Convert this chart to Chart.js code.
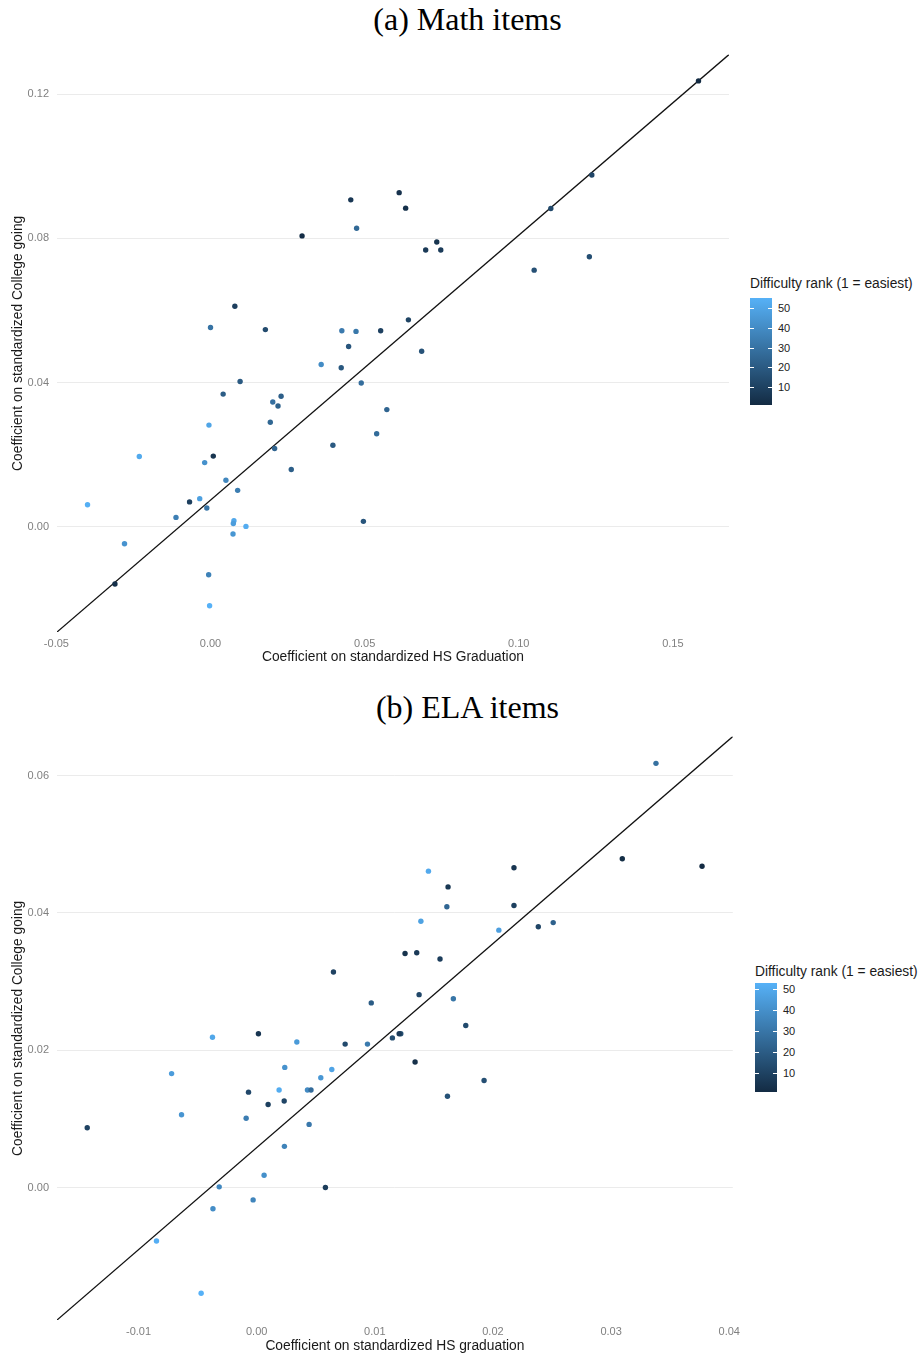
<!DOCTYPE html>
<html><head><meta charset="utf-8">
<script src="https://cdn.jsdelivr.net/npm/chart.js@4/dist/chart.umd.min.js"></script>
<style>
body{margin:0;background:#fff;}
#wrap{position:relative;width:919px;height:1354px;overflow:hidden;background:#fff;font-family:"Liberation Sans",Arial,Helvetica,sans-serif;}
.ptitle{position:absolute;left:8px;width:919px;text-align:center;font-family:"Liberation Serif","Times New Roman",serif;font-size:32px;color:#000;line-height:36px;}
canvas{position:absolute;left:0;}
.lgt{position:absolute;font-size:13.8px;color:#1a1a1a;white-space:nowrap;line-height:16px;}
.bar{position:absolute;width:22px;}
.lbl{position:absolute;font-size:11px;color:#222;line-height:12px;}
.tk{position:absolute;height:1px;background:#fff;width:4px;}
</style></head>
<body><div id="wrap">
<div class="ptitle" style="top:1px">(a) Math items</div>
<canvas id="c1" width="745" height="630" style="top:40px;width:745px;height:630px"></canvas>
<div class="ptitle" style="top:689px">(b) ELA items</div>
<canvas id="c2" width="745" height="632" style="top:722px;width:745px;height:632px"></canvas>
</div>
<script>
// ---------- data: Math items ----------
const mathX = [0.0455,0.0612,0.0633,0.0474,0.0297,0.0734,0.0698,0.0747,0.0079,0.0000,0.0178,0.0426,0.0472,0.0552,0.0642,0.1583,0.1237,0.1104,0.1229,0.1050,0.0448,0.0685,0.0359,0.0424,0.0096,0.0489,0.0041,0.0229,0.0202,0.0219,0.0572,-0.0005,0.0194,0.0539,0.0397,0.0208,-0.0231,0.0009,-0.0019,0.0262,0.0050,0.0088,-0.0068,-0.0035,-0.0399,-0.0012,-0.0112,0.0496,0.0076,0.0074,0.0115,0.0073,-0.0279,-0.0006,-0.0310,-0.0003];
const mathY = [0.0907,0.0927,0.0884,0.0828,0.0807,0.0790,0.0768,0.0768,0.0612,0.0553,0.0547,0.0544,0.0542,0.0544,0.0574,0.1237,0.0976,0.0883,0.0749,0.0712,0.0500,0.0487,0.0450,0.0441,0.0403,0.0399,0.0368,0.0362,0.0346,0.0335,0.0325,0.0282,0.0290,0.0258,0.0226,0.0217,0.0195,0.0196,0.0178,0.0159,0.0129,0.0101,0.0069,0.0078,0.0061,0.0052,0.0026,0.0015,0.0017,0.0009,0.0001,-0.0020,-0.0047,-0.0133,-0.0159,-0.0219];
const mathRank = [6,4,3,26,2,5,7,8,9,30,14,33,32,10,11,1,12,13,15,16,18,17,40,19,20,28,21,22,29,23,24,50,25,27,20,24,52,5,42,22,38,34,9,48,54,31,35,18,51,47,53,44,43,36,3,55];
// ---------- data: ELA items ----------
const elaX = [0.01454,0.0162,0.0161,0.0139,0.01256,0.01355,0.01552,0.0065,0.0097,0.01375,0.01665,0.0338,0.02178,0.03095,0.0377,0.02178,0.0205,0.02384,0.0251,0.0177,0.0122,0.01341,0.01925,0.01615,-0.00374,0.00015,0.0034,0.00749,0.00938,0.01149,0.01206,-0.0072,0.00238,0.00636,0.00543,0.0019,0.0043,0.0046,-0.00069,0.00233,0.00097,-0.00636,-0.00089,-0.01434,0.00444,0.00235,0.00063,-0.00317,0.00582,-0.0003,-0.0037,-0.00848,-0.0047];
const elaY = [0.0461,0.0438,0.0409,0.0388,0.0341,0.0342,0.0333,0.0314,0.0269,0.0281,0.0275,0.0618,0.0466,0.0479,0.0468,0.0411,0.0375,0.0380,0.0386,0.0236,0.0224,0.0183,0.0156,0.0133,0.0219,0.0224,0.0212,0.0209,0.0209,0.0218,0.0224,0.0166,0.0175,0.0172,0.0160,0.0142,0.0142,0.0142,0.0139,0.0126,0.0121,0.0106,0.0101,0.0087,0.0092,0.0060,0.0018,0.0001,0.0000,-0.0018,-0.0031,-0.0078,-0.0154];
const elaRank = [50,6,24,47,4,7,8,10,20,12,30,28,5,2,1,9,46,11,22,13,14,3,15,16,49,5,44,13,32,14,7,45,41,48,43,51,38,26,12,11,9,42,33,10,31,35,40,37,8,36,39,52,53];
// ---------- axes ----------
const mathXTicks = [-0.05, 0.00, 0.05, 0.10, 0.15];
const mathYTicks = [0.00, 0.04, 0.08, 0.12];
const elaXTicks = [-0.01, 0.00, 0.01, 0.02, 0.03, 0.04];
const elaYTicks = [0.00, 0.02, 0.04, 0.06];
const mathXRange = [-0.0498, 0.1682];
const mathYRange = [-0.0292, 0.1310];
const elaXRange = [-0.0169, 0.0403];
const elaYRange = [-0.0193, 0.0657];
// reference line endpoints
const mathLineX = [-0.0498, 0.1682];
const mathLineY = [-0.0292, 0.1310];
const elaLineX = [-0.0169, 0.0403];
const elaLineY = [-0.0193, 0.0657];
// colour scale
const mathRankRange = [1, 55];
const elaRankRange = [1, 53];
const legendTicks = [10, 20, 30, 40, 50];
const lowColor = [19, 43, 67];    // #132B43
const highColor = [86, 177, 247]; // #56B1F7

const FONT = '"Liberation Sans", Arial, Helvetica, sans-serif';

function rankColor(r, rr) {
  let t = (r - rr[0]) / (rr[1] - rr[0]);
  t = Math.max(0, Math.min(1, t));
  const c = lowColor.map((v, i) => Math.round(v + (highColor[i] - v) * t));
  return 'rgb(' + c.join(',') + ')';
}

function makeChart(id, xs, ys, ranks, rr, xr, yr, lx, ly, xt, yt, xTitle, yTitle, geo) {
  const pts = xs.map((x, i) => ({x: x, y: ys[i]}));
  const cols = ranks.map(r => rankColor(r, rr));
  new Chart(document.getElementById(id), {
    type: 'scatter',
    data: {datasets: [
      {data: pts, backgroundColor: cols, borderColor: cols, pointRadius: 2.7, pointBorderWidth: 0, order: 1},
      {data: lx.map((x, i) => ({x: x, y: ly[i]})), showLine: true, borderColor: '#111', borderWidth: 1.3, pointRadius: 0, order: 2}
    ]},
    options: {
      responsive: false, animation: false, events: [],
      layout: {padding: {left: 0, right: geo.padR, top: geo.padT, bottom: 0}},
      plugins: {legend: {display: false}, tooltip: {enabled: false}},
      scales: {
        x: {
          type: 'linear', min: xr[0], max: xr[1],
          afterBuildTicks: a => { a.ticks = xt.map(v => ({value: v})); },
          afterFit: s => { s.height = geo.xH; },
          grid: {display: false, drawTicks: false}, border: {display: false},
          ticks: {padding: 5, color: '#808080', font: {size: 11, family: FONT}, callback: v => Number(v).toFixed(2), maxRotation: 0, autoSkip: false},
          title: {display: true, text: xTitle, color: '#1a1a1a', font: {size: 13.8, family: FONT}, padding: {top: 0, bottom: geo.xTitlePad}}
        },
        y: {
          type: 'linear', min: yr[0], max: yr[1],
          afterBuildTicks: a => { a.ticks = yt.map(v => ({value: v})); },
          afterFit: s => { s.width = 57; },
          grid: {color: '#ebebeb', lineWidth: 1, drawTicks: false}, border: {display: false},
          ticks: {padding: 8, color: '#808080', font: {size: 11, family: FONT}, callback: v => Number(v).toFixed(2), autoSkip: false},
          title: {display: true, text: yTitle, color: '#1a1a1a', font: {size: 13.8, family: FONT}, padding: {top: 10, bottom: 0}}
        }
      }
    }
  });
}

function buildLegend(g, rr) {
  const wrap = document.getElementById('wrap');
  const t = document.createElement('div');
  t.className = 'lgt'; t.textContent = 'Difficulty rank (1 = easiest)';
  t.style.left = g.x + 'px'; t.style.top = (g.titleY - 8) + 'px';
  wrap.appendChild(t);
  const hi = rankColor(rr[1], rr), lo = rankColor(rr[0], rr);
  const b = document.createElement('div');
  b.className = 'bar';
  b.style.left = g.x + 'px'; b.style.top = g.barTop + 'px'; b.style.height = g.barH + 'px';
  b.style.background = 'linear-gradient(to top,' + lo + ',' + hi + ')';
  wrap.appendChild(b);
  legendTicks.forEach(v => {
    const y = g.barTop + g.barH - (v - rr[0]) / (rr[1] - rr[0]) * g.barH;
    const l = document.createElement('div');
    l.className = 'lbl'; l.textContent = String(v);
    l.style.left = g.lblX + 'px'; l.style.top = (y - 6) + 'px';
    wrap.appendChild(l);
    [0, 18].forEach(dx => {
      const k = document.createElement('div');
      k.className = 'tk'; k.style.left = (g.x + dx) + 'px'; k.style.top = Math.round(y) + 'px';
      wrap.appendChild(k);
    });
  });
}

makeChart('c1', mathX, mathY, mathRank, mathRankRange, mathXRange, mathYRange, mathLineX, mathLineY,
  mathXTicks, mathYTicks, 'Coefficient on standardized HS Graduation', 'Coefficient on standardized College going',
  {padR: 16, padT: 9, xH: 38, xTitlePad: 5});
makeChart('c2', elaX, elaY, elaRank, elaRankRange, elaXRange, elaYRange, elaLineX, elaLineY,
  elaXTicks, elaYTicks, 'Coefficient on standardized HS graduation', 'Coefficient on standardized College going',
  {padR: 12, padT: 14, xH: 34, xTitlePad: 0});
buildLegend({x: 750, titleY: 284, barTop: 298, barH: 107, lblX: 778}, mathRankRange);
buildLegend({x: 755, titleY: 972, barTop: 983, barH: 109, lblX: 783}, elaRankRange);
</script>
</body></html>
